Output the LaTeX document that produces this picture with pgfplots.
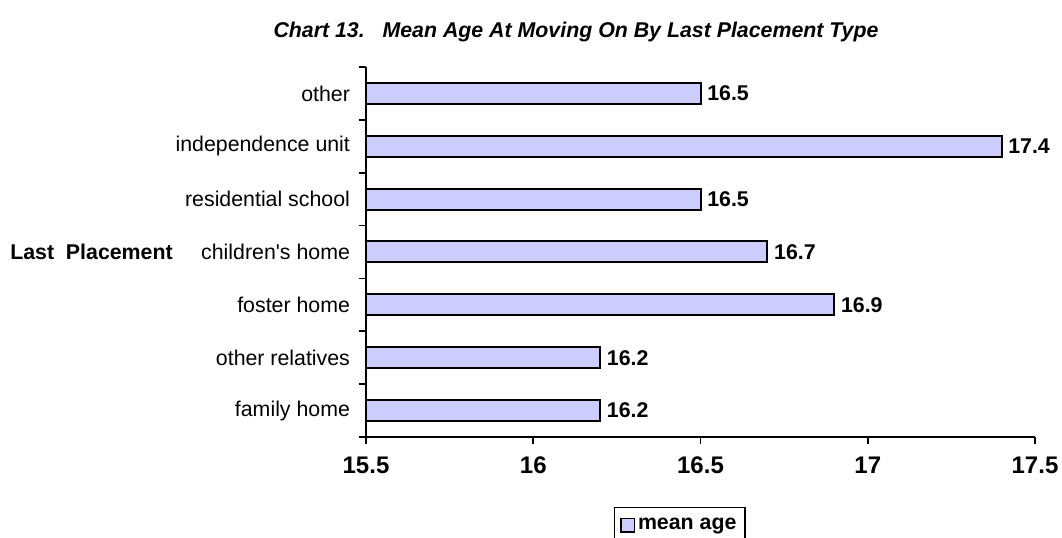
\documentclass[border=0pt]{standalone}
\usepackage{pgfplots}
\pgfplotsset{compat=1.18}
\usepackage{fontspec}
\setmainfont{Liberation Sans}
\definecolor{barcol}{RGB}{204,204,255}
\begin{document}
\begin{tikzpicture}
\path[use as bounding box] (0,0) rectangle (796.5pt,403.5pt);
\node[font=\fontsize{16}{18}\selectfont\bfseries\itshape] at (432pt,379.5pt) {Chart 13.\ \ \ Mean Age At Moving On By Last Placement Type};
\begin{axis}[
  at={(274.5pt,75.75pt)}, anchor=south west,
  scale only axis, width=501.75pt, height=277.5pt,
  xbar, bar width=15.75pt,
  xmin=15.5, xmax=17.5, ymin=-0.5, ymax=6.5,
  axis x line=bottom, axis y line=left,
  axis line style={line width=1.2pt, -},
  every tick/.style={black, line width=1.2pt},
  tick align=outside, major tick length=5.5pt,
  xtick={15.5,16,16.5,17,17.5},
  xticklabels={15.5,16,16.5,17,17.5},
  xticklabel style={font=\fontsize{18}{20}\selectfont\bfseries, yshift=-6pt},
  ytick={-0.5,0.5,...,6.5},
  yticklabels={family home,other relatives,foster home,children\textquotesingle s home,residential school,independence unit,other,{}},
  yticklabel style={font=\fontsize{16}{18}\selectfont, yshift=19.82pt, xshift=-3pt},
  ylabel={Last\ \ Placement},
  ylabel style={font=\fontsize{16}{18}\selectfont\bfseries, rotate=-90, at={(axis description cs:-0.4103,0.5)}, anchor=center},
  /pgf/number format/assume math mode=true,
  nodes near coords={\pgfmathprintnumber[fixed,fixed zerofill,precision=1]{\pgfplotspointmeta}},
  nodes near coords style={font=\fontsize{16}{18}\selectfont\bfseries, anchor=west, xshift=1pt},
  legend style={at={(axis description cs:0.469,-0.238)}, anchor=center, draw=black, line width=1.2pt, font=\fontsize{16}{18}\selectfont\bfseries, inner xsep=4.5pt, inner ysep=6pt, legend cell align=left},
  legend image code/.code={\draw[fill=barcol, draw=black, line width=1.2pt] (0pt,-5pt) rectangle (10pt,5pt);},
  clip=false,
]
\addplot[fill=barcol, draw=black, line width=1.5pt] coordinates {
  (16.2,0) (16.2,1) (16.9,2) (16.7,3) (16.5,4) (17.4,5) (16.5,6)
};
\addlegendentry{mean age}
\end{axis}
\end{tikzpicture}
\end{document}
